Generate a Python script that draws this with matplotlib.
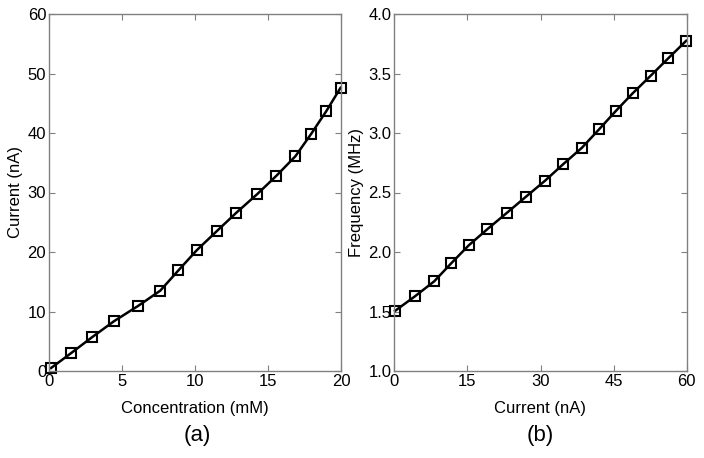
import matplotlib
matplotlib.use("Agg")
import matplotlib.pyplot as plt

plt.rcParams['font.family'] = ['Liberation Sans', 'DejaVu Sans']

# (a) concentration vs current
conc = [0.14, 1.51, 2.96, 4.47, 6.08, 7.62, 8.86, 10.12, 11.49, 12.83,
        14.25, 15.57, 16.88, 17.97, 19.0, 19.97]
current_a = [0.5, 3.0, 5.7, 8.4, 10.9, 13.5, 16.9, 20.3, 23.5, 26.6,
             29.7, 32.8, 36.1, 39.9, 43.7, 47.6]

# (b) current vs frequency
current_b = [0.14, 4.25, 8.2, 11.7, 15.3, 19.1, 23.1, 26.97, 30.9, 34.6,
             38.5, 42.0, 45.5, 48.9, 52.6, 56.2, 59.9]
freq = [1.505, 1.628, 1.754, 1.906, 2.057, 2.192, 2.329, 2.463, 2.598, 2.736,
        2.876, 3.030, 3.187, 3.333, 3.481, 3.627, 3.775]

fig = plt.figure(figsize=(7.04, 4.58), dpi=100)
ax1 = fig.add_axes([49/704, 1-371/458, 292/704, 357/458])
ax2 = fig.add_axes([394.3/704, 1-371/458, 292.4/704, 357/458])

style = dict(color='black', lw=1.8, marker='s', markersize=7.5, clip_on=False,
             markerfacecolor='none', markeredgecolor='black', markeredgewidth=1.5)
ax1.plot(conc, current_a, **style)
ax2.plot(current_b, freq, **style)

ax1.set_xlim(0, 20)
ax1.set_ylim(0, 60)
ax1.set_xticks([0, 5, 10, 15, 20])
ax1.set_yticks([0, 10, 20, 30, 40, 50, 60])

ax2.set_xlim(0, 60)
ax2.set_ylim(1, 4)
ax2.set_xticks([0, 15, 30, 45, 60])
ax2.set_yticks([1.0, 1.5, 2.0, 2.5, 3.0, 3.5, 4.0])
ax2.set_yticklabels(['1.0', '1.5', '2.0', '2.5', '3.0', '3.5', '4.0'])

for ax in (ax1, ax2):
    for s in ax.spines.values():
        s.set_color('#808080')
        s.set_linewidth(1.0)
    ax.tick_params(direction='in', length=4, width=0.8, color='#808080',
                   top=True, right=True, labelsize=12, pad=2)

ax1.set_ylabel('Current (nA)', fontsize=12, labelpad=3)
ax2.set_ylabel('Frequency (MHz)', fontsize=12, labelpad=3)

fig.text(195/704, 1-408/458, 'Concentration (mM)', ha='center', va='center', fontsize=12)
fig.text(540/704, 1-408/458, 'Current (nA)', ha='center', va='center', fontsize=12)
fig.text(197/704, 1-436/458, '(a)', ha='center', va='center', fontsize=16)
fig.text(540/704, 1-436/458, '(b)', ha='center', va='center', fontsize=16)

fig.savefig('out.png', dpi=100)
